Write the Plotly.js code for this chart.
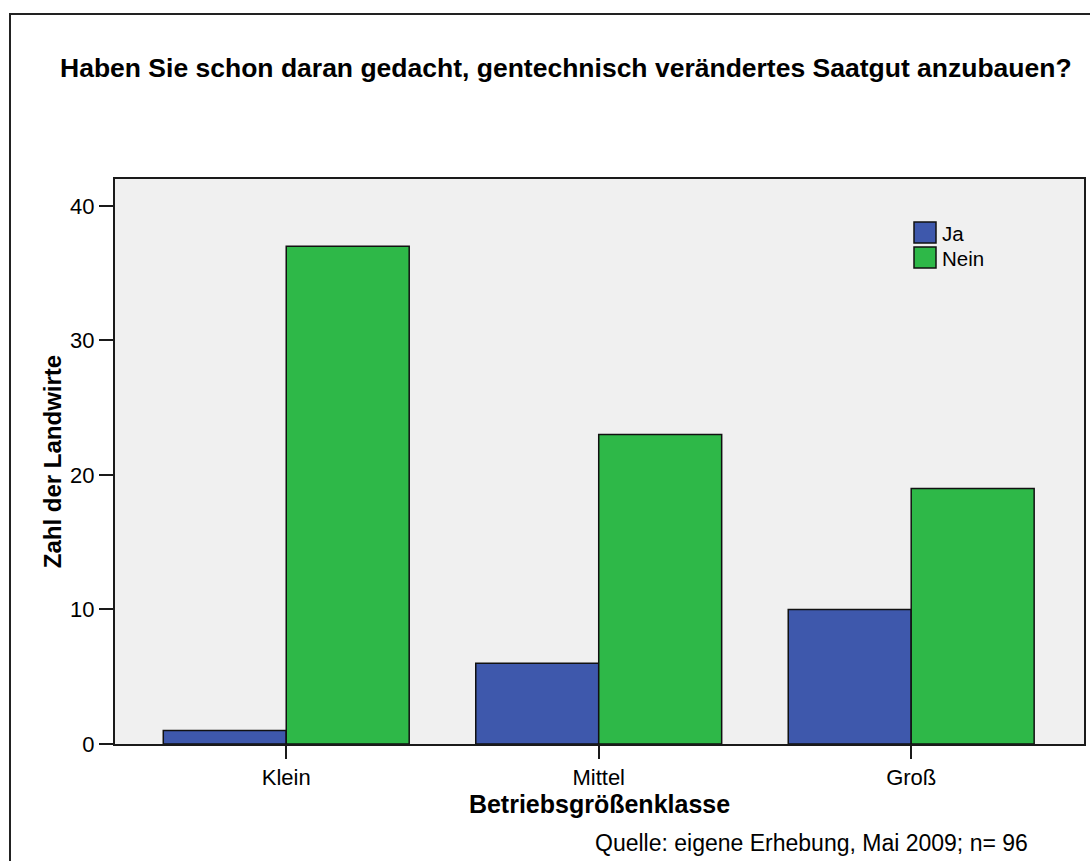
<!DOCTYPE html>
<html>
<head>
<meta charset="utf-8">
<script src="https://cdn.plot.ly/plotly-3.0.1.min.js"></script>
<style>
html,body{margin:0;padding:0;background:#fff;}
#chart{width:1090px;height:861px;}
</style>
</head>
<body>
<div id="chart"></div>
<script>
// ---- data ----
const categories = ["Klein", "Mittel", "Groß"];
const seriesNames = ["Ja", "Nein"];
const jaValues = [1, 6, 10];
const neinValues = [37, 23, 19];
const seriesColors = ["#3E58AC", "#2EB848"];
const yTickValues = [0, 10, 20, 30, 40];
const titleText = "Haben Sie schon daran gedacht, gentechnisch verändertes Saatgut anzubauen?";
const xTitleText = "Betriebsgrößenklasse";
const yTitleText = "Zahl der Landwirte";
const sourceText = "Quelle: eigene Erhebung, Mai 2009; n= 96";

const FONT = "'Liberation Sans', Arial, Helvetica, sans-serif";
const W = 1090, H = 861;
const M = {l: 115, r: 6, t: 179, b: 117};
const PW = W - M.l - M.r, PH = H - M.t - M.b;
const px = x => (x - M.l) / PW;      // pixel -> paper x
const py = y => (H - M.b - y) / PH;  // pixel -> paper y

const seriesValues = [jaValues, neinValues];
const traces = seriesNames.map((name, i) => ({
  type: "bar",
  name: name,
  x: categories,
  y: seriesValues[i],
  marker: {color: seriesColors[i], line: {color: "#111", width: 1.5}},
  hoverinfo: "x+y+name"
}));

// custom legend (large swatches)
const shapes = [];
const annotations = [];
seriesNames.forEach((name, i) => {
  const top = 222 + i * 25;
  shapes.push({
    type: "rect", xref: "paper", yref: "paper", layer: "above",
    x0: px(914), x1: px(936), y0: py(top + 21), y1: py(top),
    fillcolor: seriesColors[i], line: {color: "#111", width: 1.5}
  });
  annotations.push({
    xref: "paper", yref: "paper", x: px(940), y: py(top + 11),
    xanchor: "left", yanchor: "middle", showarrow: false,
    text: name, font: {family: FONT, size: 20.5, color: "#000"}
  });
});
// outer frame
shapes.push({
  type: "rect", xref: "paper", yref: "paper", layer: "above",
  x0: px(10), x1: px(1110), y0: py(890), y1: py(14),
  line: {color: "#222", width: 2}, fillcolor: "rgba(0,0,0,0)"
});
// source note
annotations.push({
  xref: "paper", yref: "paper", x: px(593), y: py(843),
  xanchor: "left", yanchor: "middle", showarrow: false,
  text: sourceText, font: {family: FONT, size: 23, color: "#000"}
});

const layout = {
  width: W, height: H,
  margin: M,
  paper_bgcolor: "#ffffff",
  plot_bgcolor: "#f0f0f0",
  showlegend: false,
  barmode: "group",
  bargap: 0.213,
  bargroupgap: 0,
  font: {family: FONT, color: "#000"},
  title: {
    text: "<b>" + titleText + "</b>",
    font: {family: FONT, size: 26.5, color: "#000"},
    xref: "container", x: 60 / W, xanchor: "left",
    yref: "container", y: 1 - 68 / H, yanchor: "middle"
  },
  xaxis: {
    type: "category",
    range: [-0.548, 2.553],
    showgrid: false, zeroline: false,
    showline: true, mirror: true, linecolor: "#1a1a1a", linewidth: 2,
    ticks: "outside", ticklen: 13, tickwidth: 2, tickcolor: "#1a1a1a",
    tickfont: {family: FONT, size: 22, color: "#000"},
    title: {text: "<b>" + xTitleText + "</b>", font: {family: FONT, size: 25, color: "#000"}, standoff: 6},
    automargin: false, fixedrange: true
  },
  yaxis: {
    range: [0, 42],
    tickvals: yTickValues,
    ticktext: yTickValues.map(String),
    showgrid: false, zeroline: false,
    showline: true, mirror: true, linecolor: "#1a1a1a", linewidth: 2,
    ticks: "outside", ticklen: 14, tickwidth: 2, tickcolor: "#1a1a1a",
    tickfont: {family: FONT, size: 22, color: "#000"},
    title: {text: "<b>" + yTitleText + "</b>", font: {family: FONT, size: 24, color: "#000"}, standoff: 2},
    automargin: false, fixedrange: true
  },
  shapes: shapes,
  annotations: annotations
};

Plotly.newPlot("chart", traces, layout, {displayModeBar: false});
</script>
</body>
</html>
